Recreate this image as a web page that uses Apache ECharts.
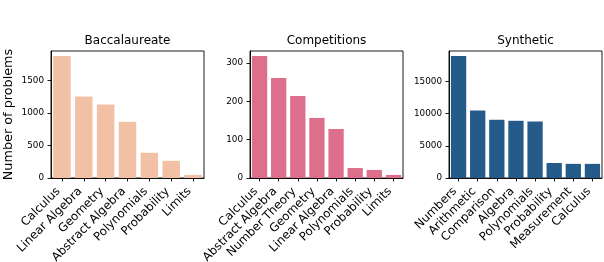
<!DOCTYPE html>
<html>
<head>
<meta charset="utf-8">
<script src="https://cdn.jsdelivr.net/npm/echarts@6/dist/echarts.min.js"></script>
<style>
html,body{margin:0;padding:0;background:#fff;}
#c{width:604px;height:262px;}
</style>
</head>
<body>
<div id="c"></div>
<script>
const titles = ["Baccalaureate", "Competitions", "Synthetic"];
const bacCategories = ["Calculus", "Linear Algebra", "Geometry", "Abstract Algebra", "Polynomials", "Probability", "Limits"];
const bacValues = [1877, 1252, 1128, 864, 388, 264, 48];
const compCategories = ["Calculus", "Abstract Algebra", "Number Theory", "Geometry", "Linear Algebra", "Polynomials", "Probability", "Limits"];
const compValues = [319, 261, 214, 157, 128, 26, 21, 8];
const synCategories = ["Numbers", "Arithmetic", "Comparison", "Algebra", "Polynomials", "Probability", "Measurement", "Calculus"];
const synValues = [19000, 10520, 9060, 8900, 8790, 2330, 2200, 2200];
const yIntervals = [500, 100, 5000];
const colors = ["#f2c1a5", "#dd6e8c", "#255b8a"];
const yName = "Number of problems";

const cats = [bacCategories, compCategories, synCategories];
const vals = [bacValues, compValues, synValues];
const lefts = [51, 250, 449];
const W = 153, TOP = 51, H = 127;
const FONT = "DejaVu Sans";

const grids = [], xAxes = [], yAxes = [], series = [], tts = [];
for (let i = 0; i < 3; i++) {
  grids.push({left: lefts[i], top: TOP, width: W, height: H, show: true, borderColor: "#000", borderWidth: 0.9,
    containLabel: false, outerBoundsMode: "none"});
  xAxes.push({
    type: "category", gridIndex: i, data: cats[i],
    axisLine: {show: true, lineStyle: {color: "#000", width: 0.9}},
    axisTick: {show: true, alignWithLabel: true, length: 3.5, lineStyle: {color: "#000", width: 0.9}},
    axisLabel: {rotate: 45, interval: 0, margin: 8, padding: [0, 5, 0, 0], fontFamily: FONT, fontSize: 11.8, color: "#000"},
    splitLine: {show: false}
  });
  yAxes.push({
    type: "value", gridIndex: i, min: 0, interval: yIntervals[i],
    max: function (v) { return v.max * 1.04; },
    name: i === 0 ? yName : "",
    nameLocation: "middle", nameGap: 36, nameRotate: 90,
    nameTextStyle: {fontFamily: FONT, fontSize: 12.8, color: "#000"},
    axisLine: {show: true, lineStyle: {color: "#000", width: 0.9}},
    axisTick: {show: true, length: 3.5, lineStyle: {color: "#000", width: 0.9}},
    axisLabel: {margin: 7, fontFamily: FONT, fontSize: 8.8, color: "#000", showMaxLabel: false,
      formatter: function (v) { return String(v); }},
    splitLine: {show: false}
  });
  series.push({
    type: "bar", xAxisIndex: i, yAxisIndex: i, data: vals[i],
    barCategoryGap: "20%", itemStyle: {color: colors[i]}, silent: true
  });
  tts.push({
    text: titles[i], left: lefts[i] + W / 2, top: 35, textAlign: "center", padding: 0,
    textStyle: {fontFamily: FONT, fontSize: 12, fontWeight: "normal", color: "#000"}
  });
}

const chart = echarts.init(document.getElementById("c"), null, {renderer: "canvas"});
chart.setOption({
  animation: false,
  title: tts,
  grid: grids,
  xAxis: xAxes,
  yAxis: yAxes,
  series: series
});
</script>
</body>
</html>
